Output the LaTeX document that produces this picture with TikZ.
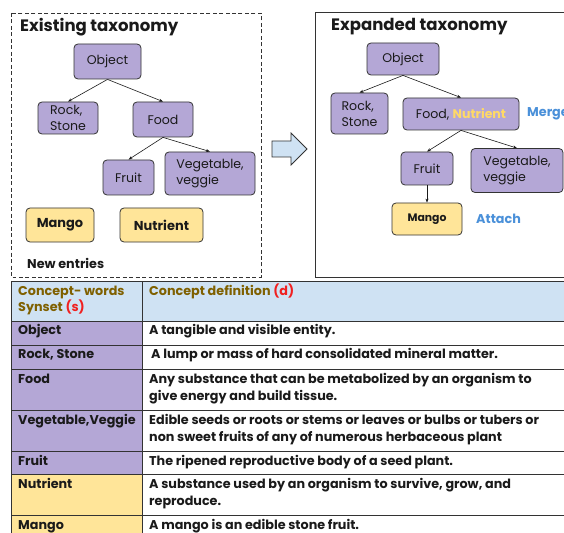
\documentclass[tikz,border=0pt]{standalone}
\usepackage{fontspec}
\setmainfont{Poppins}
\usetikzlibrary{arrows.meta}
\definecolor{purp}{HTML}{B4A7D6}
\definecolor{yel}{HTML}{FFE599}
\definecolor{lblue}{HTML}{CFE2F3}
\definecolor{olive}{HTML}{7F6000}
\definecolor{redt}{HTML}{F02020}
\definecolor{bluet}{HTML}{4A90D9}
\definecolor{yelt}{HTML}{FFD966}
\definecolor{txt}{HTML}{1A1A1A}
\definecolor{edge}{HTML}{333333}
\newcommand{\treefont}{\fontsize{12.6}{16}\selectfont}
\newcommand{\tabfont}{\fontsize{12.8}{17}\selectfont\bfseries}
\tikzset{
  tnode/.style={draw=edge, line width=0.8pt, rounded corners=4pt, inner sep=0pt, text=txt, font=\treefont, align=center},
  pnode/.style={tnode, fill=purp},
  ynode/.style={tnode, fill=yel, font=\fontsize{13}{16}\selectfont\bfseries},
  conn/.style={-{Stealth[length=4pt,width=3pt]}, line width=0.6pt, draw=txt},
  tl/.style={anchor=base west, inner sep=0pt, font=\tabfont, text=txt},
  th/.style={anchor=base west, inner sep=0pt, font=\tabfont, text=olive},
  ttl/.style={anchor=base west, inner sep=0pt, font=\fontsize{16.6}{18}\selectfont\bfseries, text=txt},
  act/.style={anchor=west, inner sep=0pt, font=\fontsize{12.8}{14}\selectfont\bfseries, text=bluet},
  hline/.style={draw=edge, line width=0.7pt}
}
\begin{document}
\begin{tikzpicture}[x=1bp,y=-1bp]
\useasboundingbox (0,0) rectangle (564,533);
\clip (0,0) rectangle (564,533);
\fill[white] (0,0) rectangle (564,533);

% ---------- left: existing taxonomy ----------
\draw[edge, line width=0.9pt, dash pattern=on 4pt off 2.5pt] (11,13) rectangle (261,277);
\node[ttl] (ttlL) at (20,32) {Existing taxonomy};
\node[pnode, minimum width=67bp, minimum height=35bp] (objL) at (107.5,61.5) {Object};
\node[pnode, minimum width=60bp, minimum height=32bp, align=left] (rockL) at (68,118) {Rock,\\Stone};
\node[pnode, minimum width=60bp, minimum height=35bp] (foodL) at (163,119.5) {Food};
\node[pnode, minimum width=51bp, minimum height=35bp] (fruitL) at (128.5,177.5) {Fruit};
\node[pnode, minimum width=90bp, minimum height=43bp, align=left] (vegL) at (210,173.5) {Vegetable,\\veggie};
\node[ynode, minimum width=68bp, minimum height=34bp] (mangoL) at (60,225) {Mango};
\node[ynode, minimum width=83bp, minimum height=34bp] (nutL) at (161.5,225) {Nutrient};
\node[anchor=west, inner sep=0pt, font=\fontsize{12.8}{14}\selectfont\bfseries, text=txt] (newL) at (27,263) {New entries};
\draw[conn] (objL.south) -- (rockL.north);
\draw[conn] (objL.south) -- (foodL.north);
\draw[conn] (foodL.south) -- (fruitL.north);
\draw[conn] (foodL.south) -- (vegL.north);

% ---------- block arrow ----------
\draw[edge, line width=0.8pt, fill=lblue] (272,141) -- (291,141) -- (291,133) -- (307,149) -- (291,165) -- (291,157) -- (272,157) -- cycle;

% ---------- right: expanded taxonomy ----------
\draw[edge, line width=0.9pt] (315,12) rectangle (600,277);
\node[ttl] (ttlR) at (331,31) {Expanded taxonomy};
\node[pnode, minimum width=72bp, minimum height=32bp] (objR) at (403,59) {Object};
\node[pnode, minimum width=57bp, minimum height=41bp, align=left] (rockR) at (359.5,113.5) {Rock,\\Stone};
\node[pnode, minimum width=116bp, minimum height=32bp] (foodR) at (461,114) {Food, \textcolor{yelt}{\bfseries Nutrient}};
\node[pnode, minimum width=52bp, minimum height=33bp] (fruitR) at (427,168.5) {Fruit};
\node[pnode, minimum width=92bp, minimum height=44bp, align=left] (vegR) at (517,170.5) {Vegetable,\\veggie};
\node[ynode, minimum width=70bp, minimum height=32bp, font=\fontsize{10.9}{12}\selectfont\bfseries] (mangoR) at (427,219) {Mango};
\node[act] (merge) at (527,114) {Merge};
\node[act] (attach) at (476,219) {Attach};
\draw[conn] (objR.south) -- (rockR.north);
\draw[conn] (objR.south) -- (foodR.north);
\draw[conn] (foodR.south) -- (fruitR.north);
\draw[conn] (foodR.south) -- (vegR.north);
\draw[conn] (fruitR.south) -- (mangoR.north);

% ---------- table ----------
\fill[lblue] (11,281) rectangle (570,321.5);
\fill[purp] (11,321.5) rectangle (142,474.5);
\fill[yel] (11,474.5) rectangle (142,540);
\foreach \yy in {281,321.5,345.3,369.3,410,451,474.5,515.7} {
  \draw[hline] (11,\yy) -- (570,\yy);
}
\draw[hline] (11,281) -- (11,540);
\draw[hline] (142,281) -- (142,540);

\node[th] (h1) at (18,295) {Concept- words};
\node[th] (h2) at (18,311) {Synset \textcolor{redt}{(s)}};
\node[th] (h3) at (149,295) {Concept definition \textcolor{redt}{(d)}};

\node[tl] (s1) at (18,334) {Object};
\node[tl] (s2) at (18,358) {Rock, Stone};
\node[tl] (s3) at (18,383) {Food};
\node[tl] (s4) at (18,424) {Vegetable,Veggie};
\node[tl] (s5) at (18,465) {Fruit};
\node[tl] (s6) at (18,488) {Nutrient};
\node[tl] (s7) at (18,529) {Mango};

\node[tl] (d1) at (149,334) {A tangible and visible entity.};
\node[tl] (d2) at (151,358) {A lump or mass of hard consolidated mineral matter.};
\node[tl] (d3a) at (149,383) {Any substance that can be metabolized by an organism to};
\node[tl] (d3b) at (149,400) {give energy and build tissue.};
\node[tl] (d4a) at (149,424) {Edible seeds or roots or stems or leaves or bulbs or tubers or};
\node[tl] (d4b) at (149,441) {non sweet fruits of any of numerous herbaceous plant};
\node[tl] (d5) at (149,465) {The ripened reproductive body of a seed plant.};
\node[tl] (d6a) at (149,488) {A substance used by an organism to survive, grow, and};
\node[tl] (d6b) at (149,505) {reproduce.};
\node[tl] (d7) at (149,529) {A mango is an edible stone fruit.};
\end{tikzpicture}
\end{document}
